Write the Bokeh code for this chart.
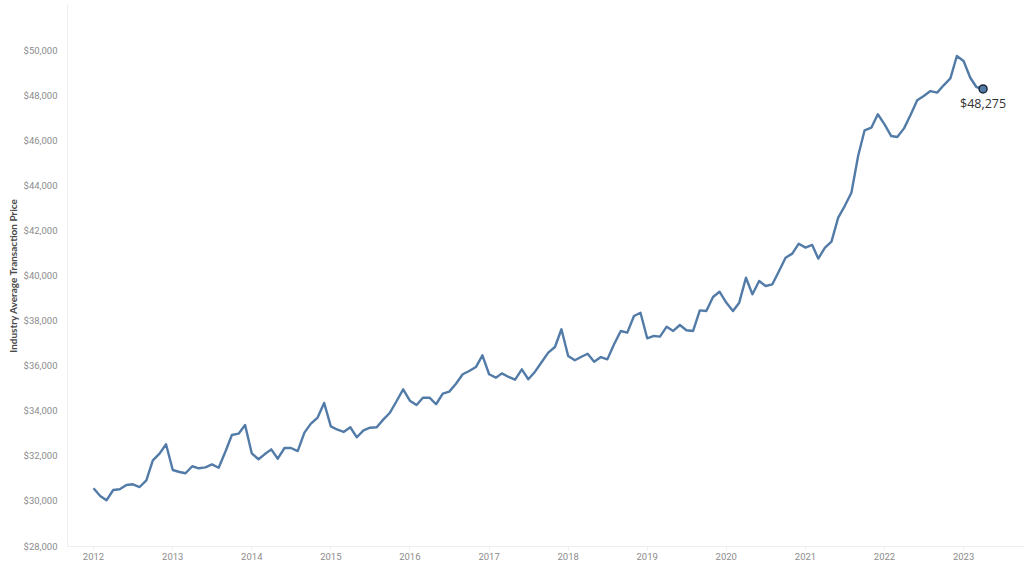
import pandas as pd
from bokeh.plotting import figure
from bokeh.models import Range1d, FixedTicker, NumeralTickFormatter, DatetimeTickFormatter, ColumnDataSource
from bokeh.core.properties import value
from bokeh.embed import file_html
from bokeh.resources import INLINE

# ---- data (monthly industry average transaction price, Jan 2012 - Apr 2023) ----
start_month = "2012-01-01"
prices_2012 = [30563, 30222, 30031, 30488, 30520, 30710, 30740, 30620, 30917, 31800, 32100, 32515]
prices_2013 = [31375, 31285, 31230, 31540, 31450, 31490, 31625, 31475, 32185, 32925, 32985, 33370]
prices_2014 = [32110, 31850, 32070, 32290, 31875, 32350, 32350, 32215, 33030, 33430, 33700, 34350]
prices_2015 = [33310, 33160, 33060, 33270, 32825, 33135, 33250, 33270, 33620, 33915, 34435, 34950]
prices_2016 = [34450, 34257, 34580, 34580, 34290, 34760, 34850, 35200, 35620, 35765, 35940, 36460]
prices_2017 = [35620, 35470, 35660, 35500, 35380, 35840, 35400, 35735, 36165, 36580, 36830, 37615]
prices_2018 = [36430, 36240, 36385, 36530, 36180, 36385, 36280, 36950, 37540, 37465, 38205, 38350]
prices_2019 = [37215, 37320, 37290, 37730, 37540, 37805, 37570, 37540, 38455, 38425, 39045, 39280]
prices_2020 = [38800, 38425, 38795, 39900, 39165, 39755, 39535, 39610, 40200, 40790, 40970, 41410]
prices_2021 = [41235, 41355, 40750, 41235, 41500, 42565, 43080, 43670, 45300, 46440, 46555, 47150]
prices_2022 = [46705, 46185, 46140, 46525, 47115, 47770, 47960, 48180, 48110, 48435, 48745, 49735]
prices_2023 = [49510, 48770, 48360, 48275]

year_ticks = [2012, 2013, 2014, 2015, 2016, 2017, 2018, 2019, 2020, 2021, 2022, 2023]
price_ticks = [28000, 30000, 32000, 34000, 36000, 38000, 40000, 42000, 44000, 46000, 48000, 50000]
y_title = "Industry Average Transaction Price"

prices = (prices_2012 + prices_2013 + prices_2014 + prices_2015 + prices_2016 + prices_2017
          + prices_2018 + prices_2019 + prices_2020 + prices_2021 + prices_2022 + prices_2023)
dates = pd.date_range(start_month, periods=len(prices), freq="MS")

src = ColumnDataSource(dict(x=dates, y=prices))
last = ColumnDataSource(dict(x=[dates[-1]], y=[prices[-1]], t=["${:,.0f}".format(prices[-1])]))

def ms(ts):
    return pd.Timestamp(ts).value / 1e6

day = 86400000.0
x0 = ms("2012-01-01") - 0.3287 * 365.25 * day
x1 = ms("2012-01-01") + 11.771 * 365.25 * day

p = figure(width=1024, height=573, x_axis_type="datetime",
           x_range=Range1d(x0, x1), y_range=Range1d(27982, 52018),
           output_backend="svg", toolbar_location=None,
           min_border_left=67, min_border_right=0, min_border_top=4, min_border_bottom=27)
p.outline_line_color = None
p.xgrid.grid_line_color = None
p.ygrid.grid_line_color = None
p.background_fill_color = "white"
p.border_fill_color = "white"

FONT = "Roboto"
LABEL_COLOR = "#8c8c8c"
AXIS_COLOR = "#eeeeee"

p.xaxis.ticker = FixedTicker(ticks=[ms(f"{y}-01-01") for y in year_ticks])
p.xaxis.formatter = DatetimeTickFormatter(years="%Y", months="%Y", days="%Y", hours="%Y")
p.xaxis.axis_line_color = AXIS_COLOR
p.xaxis.major_tick_line_color = AXIS_COLOR
p.xaxis.major_tick_out = 4
p.xaxis.major_tick_in = 0
p.xaxis.minor_tick_line_color = None
p.xaxis.major_label_standoff = 2
p.xaxis.major_label_text_font = FONT
p.xaxis.major_label_text_font_size = "9.5px"
p.xaxis.major_label_text_color = LABEL_COLOR

p.yaxis.ticker = FixedTicker(ticks=price_ticks)
p.yaxis.formatter = NumeralTickFormatter(format="$0,0")
p.yaxis.axis_line_color = AXIS_COLOR
p.yaxis.major_tick_line_color = None
p.yaxis.minor_tick_line_color = None
p.yaxis.major_label_standoff = 4
p.yaxis.major_label_text_font = FONT
p.yaxis.major_label_text_font_size = "9.5px"
p.yaxis.major_label_text_color = LABEL_COLOR
p.yaxis.axis_label = y_title
p.yaxis.axis_label_text_font = "Lato"
p.yaxis.axis_label_text_font_style = "bold"
p.yaxis.axis_label_text_font_size = "10px"
p.yaxis.axis_label_text_color = "#4a4a4a"
p.yaxis.axis_label_standoff = 2

p.line("x", "y", source=src, line_color="#527ba8", line_width=2.4, line_join="round")
p.scatter("x", "y", source=last, size=8, fill_color="#527ba8", line_color="#1b2838", line_width=1.5)
p.text("x", "y", text="t", source=last, text_font=value("Open Sans"), text_font_size="12.5px",
       text_color="#333333", text_align="center", text_baseline="top", y_offset=6)

open("out.html", "w").write(file_html(p, INLINE))
